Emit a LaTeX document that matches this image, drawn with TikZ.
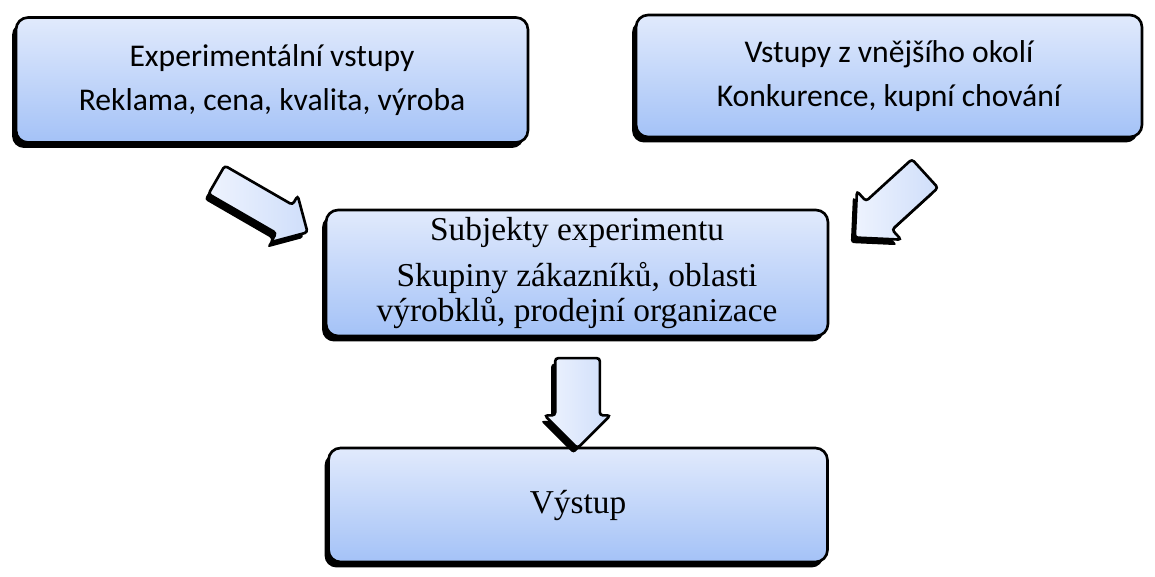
\documentclass[tikz,border=0pt]{standalone}
\usepackage{fontspec}
\setmainfont{Liberation Serif}
\newfontfamily\carlito{Carlito}
\usetikzlibrary{calc,shapes.arrows,shadows}

\definecolor{boxtop}{HTML}{E1EAFC}
\definecolor{boxbot}{HTML}{A4C2F7}
\definecolor{arrtop}{HTML}{EEF3FE}
\definecolor{arrbot}{HTML}{CFDEFA}

\begin{document}
\begin{tikzpicture}[x=0.02cm,y=-0.02cm,
    blok/.style={draw=black, line width=1.5pt, rounded corners=0.24cm,
      top color=boxtop, bottom color=boxbot,
      drop shadow={shadow xshift=-0.08cm, shadow yshift=-0.11cm, opacity=1, fill=black},
      align=center, font=\fontsize{19}{20}\selectfont},
    blokcal/.style={blok, font=\carlito\fontsize{18}{25.5}\selectfont},
    sipka/.style={single arrow, draw=black, line width=1.5pt, rounded corners=0.06cm,
      left color=arrtop, right color=arrbot, inner xsep=0pt,
      drop shadow={shadow xshift=-0.08cm, shadow yshift=-0.11cm, opacity=1, fill=black}}]

            \useasboundingbox (0,0) rectangle (1155,577);

            % Input blocks
            \node[blokcal, minimum width=10.24cm, minimum height=2.5cm] (vstupy) at (272,80)
                {Experimentální vstupy\\Reklama, cena, kvalita, výroba};
            \node[blokcal, minimum width=10.12cm, minimum height=2.44cm] (okoli) at (889,76)
                {Vstupy z vnějšího okolí\\Konkurence, kupní chování};

            % Subject block
            \node[blok, minimum width=10.04cm, minimum height=2.52cm] (subj) at (577,273)
                {Subjekty experimentu\\[6.5pt]Skupiny zákazníků, oblasti\\výrobklů, prodejní organizace};

            % Output block
            \node[blok, minimum width=9.98cm, minimum height=2.28cm] (vystup) at (578,505) {Výstup};

            % Block arrows
            \node[sipka, minimum height=2.1cm, inner ysep=0.3cm, single arrow head extend=0.21cm,
                rotate=-30] (sipkaL) at (255,202) {};
            \node[sipka, minimum height=1.9cm, inner ysep=0.36cm, single arrow head extend=0.27cm,
                rotate=-137.6] (sipkaR) at (897,199) {};
            \node[sipka, minimum height=1.8cm, inner ysep=0.42cm, single arrow head extend=0.21cm,
                rotate=-90] (sipkaD) at ($(subj.south)!0.5!(vystup.north)$) {};
\end{tikzpicture}
\end{document}
